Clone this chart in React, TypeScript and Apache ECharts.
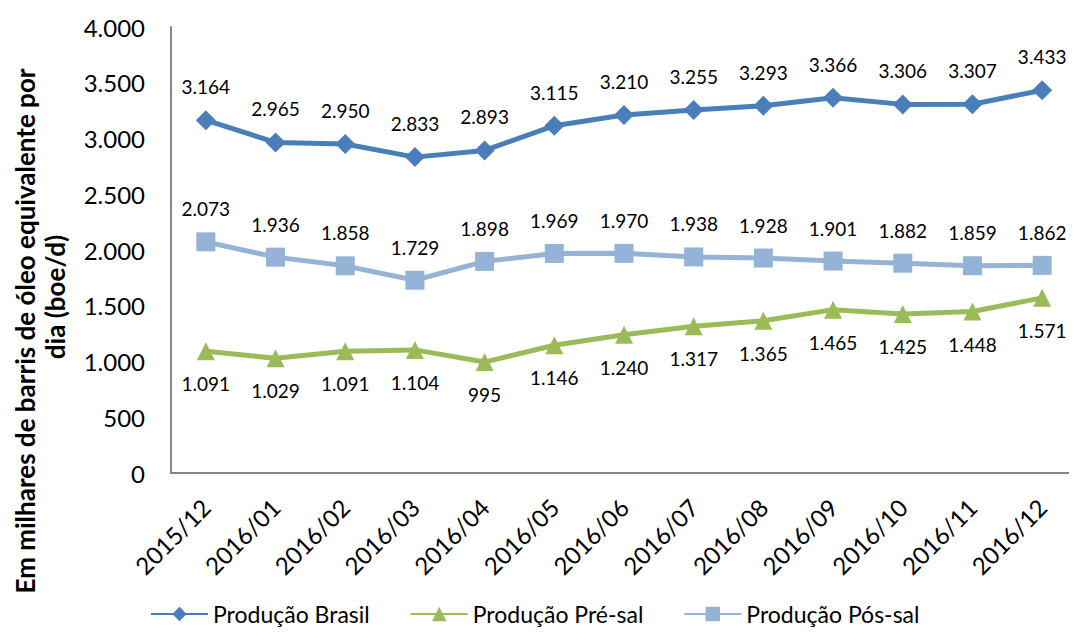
import React, { useEffect, useRef } from "react";
import * as echarts from "echarts";

const categories = ["2015/12", "2016/01", "2016/02", "2016/03", "2016/04", "2016/05", "2016/06", "2016/07", "2016/08", "2016/09", "2016/10", "2016/11", "2016/12"];
const brasil = [3164, 2965, 2950, 2833, 2893, 3115, 3210, 3255, 3293, 3366, 3306, 3307, 3433];
const preSal = [1091, 1029, 1091, 1104, 995, 1146, 1240, 1317, 1365, 1465, 1425, 1448, 1571];
const posSal = [2073, 1936, 1858, 1729, 1898, 1969, 1970, 1938, 1928, 1901, 1882, 1859, 1862];
const yTicks = { min: 0, max: 4000, interval: 500 };
const yNameLine1 = "Em milhares de barris de óleo equivalente por";
const yNameLine2 = "dia (boe/d)";

const FONT = "Lato";
const fmt = (v: number) => String(Math.round(v)).replace(/\B(?=(\d{3})+(?!\d))/g, ".");

export default function App() {
  const ref = useRef<HTMLDivElement>(null);
  useEffect(() => {
    if (!ref.current) return;
    const chart = echarts.init(ref.current, undefined, { renderer: "svg" });
    const label = (pos: string) => ({
      show: true,
      position: pos,
      distance: 14,
      color: "#000",
      fontSize: 19,
      fontFamily: FONT,
      formatter: (p: any) => fmt(p.value),
    });
    chart.setOption({
      animation: false,
      textStyle: { fontFamily: FONT },
      grid: { left: 163, right: -4, top: 19, bottom: 159, containLabel: false },
      xAxis: {
        type: "category",
        data: categories,
        boundaryGap: true,
        axisLine: { show: true, lineStyle: { color: "#868686", width: 2 } },
        axisTick: { show: false },
        axisLabel: { rotate: 45, fontSize: 24, color: "#000", fontFamily: FONT, margin: 30, interval: 0 },
        splitLine: { show: false },
      },
      yAxis: {
        type: "value",
        min: yTicks.min,
        max: yTicks.max,
        interval: yTicks.interval,
        axisLine: { show: true, lineStyle: { color: "#868686", width: 2 } },
        axisTick: { show: false },
        axisLabel: { fontSize: 24, color: "#000", fontFamily: FONT, margin: 26, formatter: (v: number) => fmt(v) },
        splitLine: { show: false },
      },
      legend: {
        left: 142,
        top: 594,
        padding: 0,
        itemWidth: 57,
        itemHeight: 18,
        itemGap: 40,
        textStyle: { fontSize: 23, lineHeight: 24, color: "#000", fontFamily: FONT },
        data: ["Produção Brasil", "Produção Pré-sal", "Produção Pós-sal"],
      },
      graphic: [
        {
          type: "text",
          x: 17,
          y: 323,
          rotation: Math.PI / 2,
          style: { text: yNameLine1, font: `bold 26px ${FONT}`, fill: "#000", align: "center", verticalAlign: "middle" },
        },
        {
          type: "text",
          x: 47,
          y: 289,
          rotation: Math.PI / 2,
          style: { text: yNameLine2, font: `bold 26px ${FONT}`, fill: "#000", align: "center", verticalAlign: "middle" },
        },
      ],
      series: [
        {
          name: "Produção Brasil",
          type: "line",
          data: brasil,
          symbol: "diamond",
          symbolSize: 20,
          lineStyle: { color: "#4a7ebb", width: 5 },
          itemStyle: { color: "#4a7ebb" },
          label: label("top"),
        },
        {
          name: "Produção Pré-sal",
          type: "line",
          data: preSal,
          symbol: "triangle",
          symbolSize: 18,
          lineStyle: { color: "#9bbb59", width: 5 },
          itemStyle: { color: "#9bbb59" },
          label: label("bottom"),
        },
        {
          name: "Produção Pós-sal",
          type: "line",
          data: posSal,
          symbol: "rect",
          symbolSize: 19,
          lineStyle: { color: "#95b3d7", width: 5 },
          itemStyle: { color: "#95b3d7" },
          label: label("top"),
        },
      ],
    });
    return () => chart.dispose();
  }, []);
  return <div ref={ref} style={{ width: 1069, height: 624 }} />;
}
